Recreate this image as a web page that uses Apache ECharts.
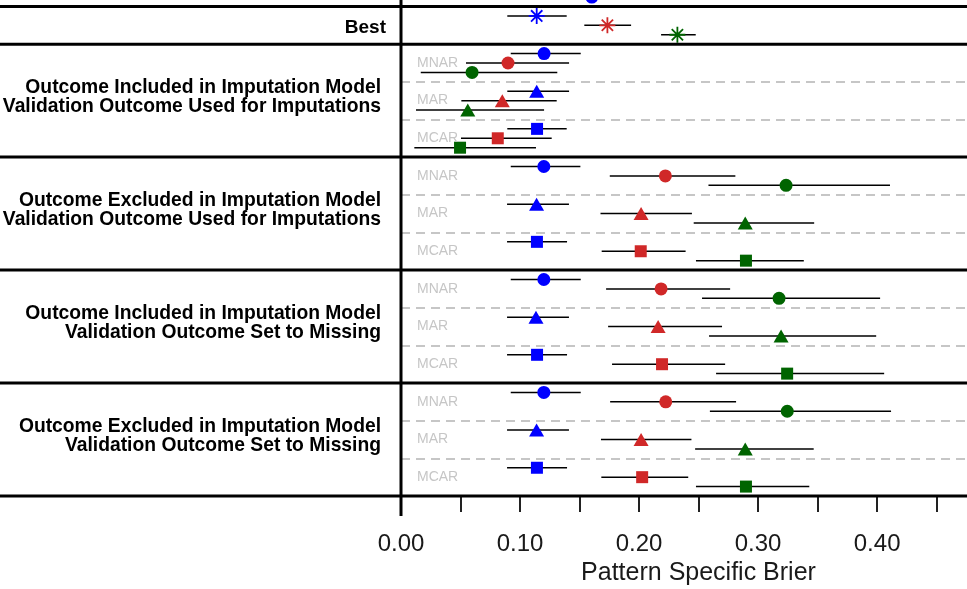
<!DOCTYPE html>
<html>
<head>
<meta charset="utf-8">
<script src="https://cdn.jsdelivr.net/npm/echarts@6/dist/echarts.min.js"></script>
<style>
  html, body { margin: 0; padding: 0; background: #fff; }
  #chart { width: 967px; height: 589px; }
</style>
</head>
<body>
<div id="chart"></div>
<script>
// rows: 0 = Best, then 4 groups x (MNAR, MAR, MCAR)
const groupLabels = [
  'Outcome Included in Imputation Model\nValidation Outcome Used for Imputations',
  'Outcome Excluded in Imputation Model\nValidation Outcome Used for Imputations',
  'Outcome Included in Imputation Model\nValidation Outcome Set to Missing',
  'Outcome Excluded in Imputation Model\nValidation Outcome Set to Missing'
]
const patterns = ['MNAR', 'MAR', 'MCAR']

const blueEst = [0.1140, 0.1202, 0.1140, 0.1143, 0.1200, 0.1139, 0.1142, 0.1200, 0.1134, 0.1143, 0.1200, 0.1139, 0.1142]
const blueLo  = [0.0893, 0.0922, 0.0893, 0.0893, 0.0922, 0.0891, 0.0891, 0.0922, 0.0891, 0.0891, 0.0922, 0.0891, 0.0891]
const blueHi  = [0.1392, 0.1510, 0.1412, 0.1392, 0.1507, 0.1411, 0.1395, 0.1510, 0.1411, 0.1395, 0.1510, 0.1411, 0.1395]

const redEst = [0.1734, 0.0899, 0.0851, 0.0813, 0.2221, 0.2017, 0.2014, 0.2185, 0.2160, 0.2193, 0.2224, 0.2017, 0.2026]
const redLo  = [0.1540, 0.0546, 0.0507, 0.0504, 0.1754, 0.1676, 0.1686, 0.1723, 0.1740, 0.1773, 0.1757, 0.1680, 0.1683]
const redHi  = [0.1933, 0.1412, 0.1308, 0.1266, 0.2809, 0.2444, 0.2391, 0.2765, 0.2697, 0.2723, 0.2815, 0.2440, 0.2413]

const greenEst = [0.2322, 0.0597, 0.0561, 0.0496, 0.3235, 0.2892, 0.2898, 0.3176, 0.3193, 0.3244, 0.3245, 0.2892, 0.2898]
const greenLo  = [0.2185, 0.0166, 0.0126, 0.0112, 0.2583, 0.2459, 0.2478, 0.2529, 0.2588, 0.2647, 0.2595, 0.2471, 0.2478]
const greenHi  = [0.2476, 0.1313, 0.1202, 0.1134, 0.4108, 0.3471, 0.3384, 0.4025, 0.3992, 0.4059, 0.4117, 0.3467, 0.3430]

// blue point of the row above "Best", cut off by the top edge
const aboveEst = [0.1603]

const tickVals = [0, 0.05, 0.10, 0.15, 0.20, 0.25, 0.30, 0.35, 0.40, 0.45]
const labelVals = [0, 0.10, 0.20, 0.30, 0.40]

const FONT = '"Liberation Sans", Arial, sans-serif'
const STAR = 'path://M8 0L8 16M0 8L16 8M2.34 2.34L13.66 13.66M13.66 2.34L2.34 13.66'

// each colour sits at a quarter offset inside its row
const methods = [
  { name: 'blue', color: '#0000ff', est: blueEst, lo: blueLo, hi: blueHi, off: 0.25 },
  { name: 'red', color: '#d02828', est: redEst, lo: redLo, hi: redHi, off: 0.5 },
  { name: 'green', color: '#006400', est: greenEst, lo: greenLo, hi: greenHi, off: 0.75 }
]

function shapeOf(row) {
  if (row === 0) return 'star'
  return ['circle', 'triangle', 'rect'][(row - 1) % 3]
}
function sizeOf(shape) {
  if (shape === 'star') return 16
  if (shape === 'circle') return 13
  if (shape === 'triangle') return [15, 13]
  return 12
}

const chart = echarts.init(document.getElementById('chart'), null, { renderer: 'canvas' })

const errData = []
methods.forEach(m => {
  m.est.forEach((v, r) => errData.push([m.lo[r], m.hi[r], r + m.off]))
})

const pointSeries = methods.map(m => ({
  name: m.name,
  type: 'scatter',
  z: 5,
  clip: false,
  silent: true,
  data: m.est.map((v, r) => {
    const shape = shapeOf(r)
    return {
      value: [v, r + m.off],
      symbol: shape === 'star' ? STAR : shape,
      symbolSize: sizeOf(shape),
      itemStyle: shape === 'star'
        ? { color: 'none', borderColor: m.color, borderWidth: 1.8, opacity: 1 }
        : { color: m.color, opacity: 1 }
    }
  })
}))

// partial point from the row above
pointSeries.push({
  name: 'above',
  type: 'scatter',
  z: 5,
  clip: false,
  silent: true,
  symbol: 'circle',
  symbolSize: 13,
  itemStyle: { color: '#0000ff', opacity: 1 },
  data: aboveEst.map(v => [v, -1 + 0.75])
})

const dashRows = [2, 3, 5, 6, 8, 9, 11, 12]

chart.setOption({
  animation: false,
  grid: { left: 401, right: 0, top: 0, bottom: 93, outerBoundsMode: 'none', containLabel: false },
  xAxis: {
    type: 'value',
    position: 'bottom',
    min: 0,
    max: 0.4755,
    axisLine: { show: false, onZero: false },
    splitLine: { show: false },
    axisTick: {
      customValues: tickVals,
      length: 16,
      lineStyle: { color: '#222', width: 2 }
    },
    axisLabel: {
      customValues: labelVals,
      formatter: v => v.toFixed(2),
      fontSize: 24,
      color: '#1a1a1a',
      fontFamily: FONT,
      margin: 36
    },
    name: 'Pattern Specific Brier',
    nameLocation: 'middle',
    nameGap: 64,
    nameTextStyle: { fontSize: 25, color: '#1a1a1a', fontFamily: FONT, padding: [0, 0, 0, 29] }
  },
  yAxis: {
    type: 'value',
    inverse: true,
    min: -0.1726,
    max: 13,
    show: false,
    splitLine: { show: false }
  },
  series: [
    {
      name: 'ci',
      type: 'custom',
      z: 3,
      silent: true,
      encode: { x: [0, 1], y: 2 },
      data: errData,
      renderItem: (params, api) => {
        const a = api.coord([api.value(0), api.value(2)])
        const b = api.coord([api.value(1), api.value(2)])
        return {
          type: 'line',
          shape: { x1: a[0], y1: a[1], x2: b[0], y2: b[1] },
          style: { stroke: '#000', lineWidth: 1.5 }
        }
      },
      markLine: {
        silent: true,
        symbol: 'none',
        label: { show: false },
        lineStyle: { color: '#c6c6c6', type: [9, 6], width: 2 },
        data: dashRows.map(r => ({ yAxis: r }))
      }
    },
    ...pointSeries
  ]
})

// separators, vertical axis and text labels placed through the axes
const W = 967
const x0 = chart.convertToPixel({ xAxisIndex: 0 }, 0)
const yPx = v => chart.convertToPixel({ yAxisIndex: 0 }, v)
const graphics = []

;[0, 1, 4, 7, 10, 13].forEach(r => {
  const y = yPx(r)
  graphics.push({ type: 'line', z: 10, shape: { x1: 0, y1: y, x2: W, y2: y }, style: { stroke: '#000', lineWidth: 3 } })
})
graphics.push({ type: 'line', z: 10, shape: { x1: x0, y1: 0, x2: x0, y2: yPx(13) + 20 }, style: { stroke: '#000', lineWidth: 3 } })

graphics.push({
  type: 'text', z: 10, x: 386, y: yPx(0.5) + 2,
  style: { text: 'Best', font: 'bold 19px ' + FONT, fill: '#000', align: 'right', verticalAlign: 'middle' }
})
groupLabels.forEach((t, g) => {
  graphics.push({
    type: 'text', z: 10, x: 381, y: yPx(2.5 + g * 3) - 3,
    style: { text: t, font: 'bold 19.3px ' + FONT, lineHeight: 19, fill: '#000', align: 'right', verticalAlign: 'middle' }
  })
  patterns.forEach((p, i) => {
    graphics.push({
      type: 'text', z: 10, x: x0 + 16, y: yPx(1 + g * 3 + i + 0.5),
      style: { text: p, font: '14px ' + FONT, fill: '#c6c6c6', align: 'left', verticalAlign: 'middle' }
    })
  })
})

chart.setOption({ graphic: graphics })
</script>
</body>
</html>
